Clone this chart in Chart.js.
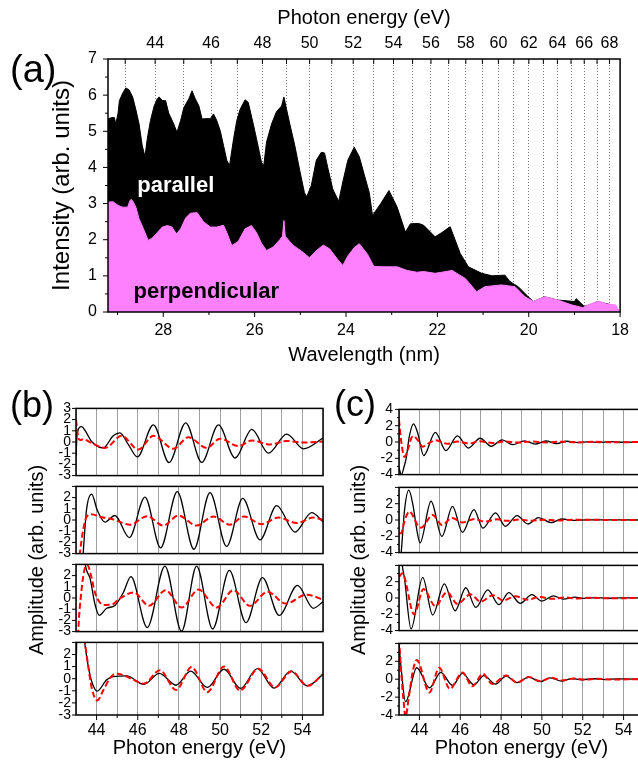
<!DOCTYPE html>
<html>
<head>
<meta charset="utf-8">
<script src="https://cdn.jsdelivr.net/npm/chart.js@4.4.1/dist/chart.umd.min.js"></script>
<style>
  html, body { margin: 0; padding: 0; background: #fff; overflow: hidden; }
  #wrap { position: relative; width: 638px; height: 765px; overflow: hidden;
          font-family: "Liberation Sans", Arial, Helvetica, sans-serif; color: #000; }
  canvas { position: absolute; }
  .panel { position: absolute; font-size: 36px; line-height: 36px; }
  .ytitle { position: absolute; font-size: 20px; white-space: nowrap;
            transform: translate(-50%, -50%) rotate(-90deg); }
</style>
</head>
<body>
<div id="wrap">
  <canvas id="chartA" width="638" height="372" style="left:0;top:0"></canvas>

  <canvas id="b1" width="330" height="94" style="left:0;top:395px"></canvas>
  <canvas id="b2" width="330" height="94" style="left:0;top:473px"></canvas>
  <canvas id="b3" width="330" height="94" style="left:0;top:551px"></canvas>
  <canvas id="b4" width="330" height="136" style="left:0;top:629px"></canvas>

  <canvas id="c1" width="330" height="94" style="left:320px;top:395px"></canvas>
  <canvas id="c2" width="330" height="94" style="left:320px;top:473px"></canvas>
  <canvas id="c3" width="330" height="94" style="left:320px;top:551px"></canvas>
  <canvas id="c4" width="330" height="136" style="left:320px;top:629px"></canvas>

  <div class="panel" style="left:10px;top:50px;font-size:38px;line-height:38px">(a)</div>
  <div class="panel" style="left:10px;top:387px">(b)</div>
  <div class="panel" style="left:334px;top:386px">(c)</div>
  <div class="ytitle" style="left:36px;top:560px">Amplitude (arb. units)</div>
  <div class="ytitle" style="left:358px;top:560px">Amplitude (arb. units)</div>
</div>

<script>
// ── Panel (a): spectra vs wavelength ─────────────────────────
const HC = 1239.84; // eV*nm, to place the photon-energy axis

const waveParallel = [
  29.21, 29.17, 29.12, 29.07, 29.04, 28.99, 28.96, 28.89, 28.82, 28.75,
  28.67, 28.60, 28.53, 28.46, 28.40, 28.35, 28.28, 28.20, 28.13, 28.09,
  28.02, 27.95, 27.88, 27.77, 27.70, 27.62, 27.55, 27.44, 27.37, 27.30,
  27.22, 27.15, 27.08, 26.97, 26.90, 26.83, 26.75, 26.68, 26.61, 26.55,
  26.46, 26.39, 26.32, 26.21, 26.14, 26.03, 25.96, 25.85, 25.80, 25.74,
  25.63, 25.52, 25.41, 25.36, 25.30, 25.23, 25.12, 25.01, 24.91, 24.86,
  24.76, 24.65, 24.54, 24.47, 24.40, 24.29, 24.16, 24.07, 23.96, 23.82,
  23.71, 23.60, 23.49, 23.42, 23.24, 23.06, 22.88, 22.70, 22.59, 22.41,
  22.30, 22.05, 21.90, 21.72, 21.50, 21.32, 21.03, 20.80, 20.52, 20.41,
  20.23, 20.01, 19.90, 19.65, 19.36, 19.00, 18.96, 18.78, 18.49, 18.20,
  18.02
];
const intParallel = [
  5.35, 5.36, 5.38, 5.38, 5.20, 5.50, 5.85, 6.05, 6.20, 6.15,
  5.95, 5.60, 5.20, 4.60, 4.30, 4.80, 5.30, 5.70, 5.90, 5.95,
  5.85, 5.85, 5.50, 5.20, 4.97, 5.30, 5.65, 5.90, 6.12, 5.90,
  5.70, 5.34, 5.35, 5.35, 5.48, 5.30, 5.00, 4.60, 4.20, 4.05,
  4.80, 5.30, 5.60, 5.87, 5.80, 5.20, 4.80, 4.14, 4.05, 4.70,
  5.20, 5.55, 5.70, 5.95, 5.60, 5.20, 4.60, 3.90, 3.30, 3.19,
  3.50, 4.20, 4.42, 4.40, 4.00, 3.40, 3.06, 3.60, 4.20, 4.56,
  4.30, 3.80, 3.30, 2.67, 3.00, 3.36, 2.90, 2.21, 2.44, 2.45,
  2.40, 2.08, 2.20, 2.36, 1.62, 1.25, 1.07, 1.00, 1.02, 0.84,
  0.70, 0.42, 0.29, 0.42, 0.33, 0.29, 0.37, 0.15, 0.29, 0.20,
  0.04
];
const wavePerp = [
  29.21, 29.10, 28.99, 28.89, 28.78, 28.73, 28.70, 28.66, 28.60, 28.53,
  28.42, 28.33, 28.24, 28.13, 28.02, 27.91, 27.81, 27.71, 27.62, 27.51,
  27.41, 27.26, 27.12, 26.97, 26.83, 26.68, 26.61, 26.50, 26.36, 26.21,
  26.07, 25.96, 25.85, 25.74, 25.59, 25.45, 25.39, 25.36, 25.33, 25.30,
  25.16, 24.94, 24.80, 24.65, 24.50, 24.36, 24.18, 24.07, 23.96, 23.82,
  23.71, 23.53, 23.39, 23.17, 22.88, 22.66, 22.45, 22.30, 22.05, 21.90,
  21.68, 21.39, 21.14, 20.96, 20.60, 20.30, 20.08, 19.90, 19.65, 19.36,
  19.07, 18.82, 18.60, 18.45, 18.30, 18.10, 18.02
];
const intPerp = [
  3.04, 3.05, 2.95, 2.90, 2.90, 3.08, 3.12, 3.05, 2.90, 2.58,
  2.26, 1.98, 2.05, 2.20, 2.35, 2.39, 2.35, 2.16, 2.30, 2.60,
  2.73, 2.75, 2.50, 2.35, 2.35, 2.40, 2.20, 1.84, 1.95, 2.30,
  2.39, 2.20, 1.90, 1.70, 1.80, 2.00, 2.10, 2.53, 2.10, 2.05,
  1.85, 1.65, 1.50, 1.70, 1.85, 1.75, 1.45, 1.29, 1.55, 1.78,
  1.89, 1.60, 1.26, 1.25, 1.25, 1.15, 1.10, 1.12, 1.07, 1.10,
  1.15, 0.93, 0.56, 0.70, 0.75, 0.70, 0.42, 0.29, 0.42, 0.33,
  0.20, 0.12, 0.25, 0.30, 0.22, 0.20, 0.03
];

const waveMajor = [28, 26, 24, 22, 20, 18];
const waveMinor = [29, 27, 25, 23, 21, 19];
const energyTicks = [43, 44, 45, 46, 47, 48, 49, 50, 51, 52, 53, 54, 55,
                     56, 57, 58, 59, 60, 61, 62, 63, 64, 65, 66, 67, 68];
const intensityMajor = [0, 1, 2, 3, 4, 5, 6, 7];
const intensityMinor = [0.5, 1.5, 2.5, 3.5, 4.5, 5.5, 6.5];

// ── Panel (b): amplitudes, four traces ───────────────────────
const b1BlackE = [43.0, 43.06, 43.27, 43.51, 43.76, 44.32, 44.81, 45.13, 45.54, 45.98, 46.76, 47.52, 48.33, 49.11, 49.92, 50.73, 51.54, 52.35, 53.24, 54.05, 55.0];
const b1BlackA = [-1.25, 0.8, 1.38, 0.81, 0.04, -0.53, 0.55, 0.81, -0.22, -1.33, 1.53, -1.84, 1.71, -1.82, 1.53, -1.43, 1.12, -0.99, 0.71, -0.61, 0.35];
const b1RedE = [43.0, 43.11, 43.19, 43.35, 43.76, 44.41, 45.22, 46.03, 46.76, 47.73, 48.46, 49.35, 50.0, 50.89, 51.54, 52.43, 53.24, 54.05, 55.0];
const b1RedA = [1.97, 0.42, 0.17, 0.24, -0.10, -0.53, 0.55, -0.68, 0.55, -0.60, 0.42, -0.53, 0.30, -0.37, 0.14, -0.22, 0.09, -0.04, 0.04];

const b2BlackE = [43.0, 43.30, 43.35, 43.51, 43.76, 44.03, 44.41, 44.89, 45.59, 46.35, 47.11, 47.92, 48.73, 49.51, 50.32, 51.10, 51.94, 52.75, 53.64, 54.45, 55.0];
const b2BlackA = [-9, -4, -2.9, 0.9, 2.31, 0.9, -0.19, 0.40, -1.57, 2.05, -2.49, 2.54, -2.61, 2.44, -2.36, 1.93, -1.77, 1.29, -1.08, 0.65, -0.15];
const b2RedE = [43.0, 43.12, 43.19, 43.35, 43.51, 43.76, 44.16, 44.65, 45.13, 45.62, 46.46, 47.24, 47.97, 48.86, 49.67, 50.48, 51.16, 52.02, 52.83, 53.72, 54.53, 55.0];
const b2RedA = [-8, -4, -2.9, -0.88, 0.27, 0.52, 0.27, 0.14, -0.17, -0.42, 0.34, -0.50, 0.40, -0.50, 0.32, -0.42, 0.32, -0.37, 0.22, -0.27, 0.22, 0.0];

const b3BlackE = [43.0, 43.30, 43.51, 43.68, 43.92, 44.13, 44.49, 44.89, 45.30, 45.67, 46.46, 47.32, 48.13, 48.86, 49.64, 50.45, 51.26, 52.06, 52.87, 53.76, 54.53, 55.0];
const b3BlackA = [8, 4.5, 2.5, 1.77, -0.54, -1.56, -0.92, -0.67, 0.49, 1.90, -2.64, 2.85, -2.97, 2.85, -2.77, 2.46, -2.20, 1.82, -1.56, 1.13, -0.92, -0.33];
const b3RedE = [43.0, 43.11, 43.27, 43.43, 43.55, 43.71, 43.92, 44.16, 44.41, 44.73, 45.13, 45.80, 46.55, 47.35, 48.13, 48.95, 49.84, 50.65, 51.45, 52.30, 53.20, 54.20, 55.0];
const b3RedA = [-9, -3, 0.74, 2.67, 2.95, 2.15, 0.49, -0.41, -0.62, -0.60, -0.05, 0.50, -0.70, 0.70, -0.85, 0.75, -0.85, 0.70, -0.70, 0.55, -0.50, 0.30, -0.15];

const b4BlackE = [43.0, 43.04, 43.20, 43.40, 43.59, 43.76, 44.03, 44.49, 44.81, 45.46, 46.30, 47.05, 47.86, 48.57, 49.38, 50.19, 51.00, 51.81, 52.62, 53.43, 54.24, 55.0];
const b4BlackA = [-0.2, 3.5, 5.5, 3.2, 1.09, -0.21, -1.03, -0.08, 0.18, 0.23, -0.47, 0.44, -0.54, 0.62, -0.72, 0.78, -0.80, 0.83, -0.78, 0.62, -0.59, 0.36];
const b4RedE = [43.0, 43.30, 43.43, 43.59, 43.76, 44.03, 44.32, 44.65, 44.97, 45.38, 45.86, 46.30, 47.08, 47.86, 48.62, 49.38, 50.19, 50.97, 51.86, 52.67, 53.48, 54.24, 55.0];
const b4RedA = [7, 4.5, 3.0, 1.09, -0.72, -1.81, -0.98, 0.05, 0.44, 0.23, -0.15, -0.41, 0.70, -0.93, 0.96, -1.11, 1.01, -0.98, 0.83, -0.72, 0.62, -0.59, 0.36];

// ── Panel (c): amplitudes, four traces ───────────────────────
const c1BlackE = [43.0, 43.12, 43.25, 43.35, 43.51, 43.71, 43.92, 44.21, 44.78, 45.30, 45.86, 46.40, 46.97, 47.52, 48.05, 48.57, 49.15, 49.67, 50.19, 50.73, 51.21, 51.80, 52.30, 52.80, 53.30, 53.80, 55.0];
const c1BlackA = [-3.2, -4.0, -3.0, -2.0, 0.74, 2.22, 1.08, -1.67, 1.19, -1.05, 0.74, -0.74, 0.46, -0.53, 0.26, -0.33, 0.15, -0.26, 0.12, -0.19, 0.09, -0.08, 0.05, -0.06, 0.04, -0.03, 0.0];
const c1RedE = [43.0, 43.11, 43.27, 43.43, 43.59, 43.71, 43.92, 44.16, 44.49, 44.81, 45.38, 45.86, 46.43, 46.92, 47.57, 48.20, 48.80, 49.50, 50.20, 51.00, 51.80, 52.60, 53.40, 55.0];
const c1RedA = [2.7, 0.05, -1.84, -0.98, 0.40, 0.74, 0.22, -0.57, -0.10, 0.22, -0.22, 0.05, -0.19, 0.10, -0.12, 0.06, -0.07, 0.05, -0.05, 0.04, -0.04, 0.04, -0.03, 0.0];

const c2BlackE = [43.0, 43.11, 43.27, 43.48, 43.68, 43.87, 44.03, 44.57, 45.10, 45.62, 46.11, 46.67, 47.11, 47.73, 48.21, 48.78, 49.32, 49.83, 50.45, 50.97, 51.54, 52.20, 55.0];
const c2BlackA = [-6, -3.9, 1.2, 3.66, 1.89, -1.17, -2.81, 2.30, -2.02, 1.68, -1.51, 1.28, -1.00, 0.87, -0.77, 0.53, -0.49, 0.29, -0.32, 0.12, -0.05, 0.02, 0.0];
const c2RedE = [43.0, 43.11, 43.27, 43.43, 43.51, 43.92, 44.08, 44.65, 45.10, 45.60, 46.11, 46.70, 47.20, 47.80, 48.30, 48.90, 49.50, 50.10, 50.70, 51.50, 55.0];
const c2RedA = [-1.68, -1.60, -0.15, 0.87, 1.04, -0.66, -0.94, 0.60, -0.60, 0.25, -0.30, 0.12, -0.20, 0.08, -0.10, 0.05, -0.08, 0.04, -0.05, 0.02, 0.0];

const c3BlackE = [43.0, 43.16, 43.27, 43.59, 44.16, 44.65, 45.22, 45.75, 46.27, 46.76, 47.35, 47.89, 48.38, 48.94, 49.51, 49.99, 50.56, 51.05, 51.62, 52.10, 52.60, 53.20, 53.80, 55.0];
const c3BlackA = [8, 4.0, 2.36, -3.80, 2.53, -2.09, 1.74, -1.57, 1.26, -1.16, 0.99, -0.82, 0.65, -0.65, 0.41, -0.38, 0.27, -0.14, 0.10, -0.05, 0.04, -0.03, 0.02, 0.0];
const c3RedE = [43.0, 43.16, 43.74, 44.20, 44.78, 45.35, 45.86, 46.50, 47.00, 47.60, 48.10, 48.70, 49.30, 49.90, 50.50, 51.10, 51.70, 52.40, 53.10, 55.0];
const c3RedA = [2.6, 3.04, -2.0, 1.10, -0.99, 0.72, -0.72, 0.45, -0.45, 0.35, -0.30, 0.20, -0.20, 0.12, -0.10, 0.06, -0.05, 0.04, -0.03, 0.0];

const c4BlackE = [43.0, 43.11, 43.32, 43.87, 44.49, 45.05, 45.62, 46.11, 46.67, 47.16, 47.73, 48.25, 48.78, 49.35, 49.92, 50.40, 50.97, 51.46, 51.94, 52.59, 53.10, 53.72, 55.0];
const c4BlackA = [3.9, 1.1, -2.52, 1.28, -0.97, 0.76, -0.69, 0.66, -0.62, 0.41, -0.55, 0.34, -0.38, 0.24, -0.28, 0.14, -0.21, 0.07, -0.06, 0.05, -0.04, 0.04, 0.0];
const c4RedE = [43.0, 43.11, 43.22, 43.32, 43.48, 43.68, 43.87, 44.49, 44.97, 45.49, 46.11, 46.59, 47.11, 47.57, 48.25, 48.78, 49.35, 49.92, 50.48, 50.97, 51.54, 52.10, 52.70, 53.30, 55.0];
const c4RedA = [4.5, 0.76, -2.34, -4.2, -2.0, 0.93, 2.14, -1.48, 1.28, -1.07, 0.76, -0.79, 0.59, -0.55, 0.41, -0.38, 0.24, -0.21, 0.17, -0.14, 0.08, -0.05, 0.04, -0.03, 0.0];

const energyMajor = [44, 46, 48, 50, 52, 54];
const energyMinor = [45, 47, 49, 51, 53];
const ampTicksB = [-3, -2, -1, 0, 1, 2, 3];
const ampMajorC = [-4, -2, 0, 2, 4];
const ampMinorC = [-3, -1, 1, 3];

// ── helpers ──────────────────────────────────────────────────
Chart.defaults.font.family = '"Liberation Sans", Arial, Helvetica, sans-serif';
Chart.defaults.color = '#000';

const xy = (xs, ys) => xs.map((x, i) => ({ x, y: ys[i] }));

// box around the plot, tick marks, and in-plot text
function frame(marks, notes) {
  return {
    id: 'frame',
    afterDatasetsDraw(chart) {
      const { ctx, chartArea: a } = chart;
      ctx.save();
      ctx.strokeStyle = '#000';
      ctx.lineWidth = 1;
      ctx.beginPath();
      marks.forEach((m) => {
        const s = chart.scales[m.scale];
        m.values.forEach((v) => {
          const p = s.getPixelForValue(v);
          if (m.edge === 'left') { ctx.moveTo(a.left, p); ctx.lineTo(a.left - m.len, p); }
          else if (m.edge === 'bottom') { ctx.moveTo(p, a.bottom); ctx.lineTo(p, a.bottom + m.len); }
          else { ctx.moveTo(p, a.top); ctx.lineTo(p, a.top + m.len); }
        });
      });
      ctx.stroke();
      ctx.lineWidth = 1.5;
      ctx.strokeRect(a.left, a.top, a.right - a.left, a.bottom - a.top);
      (notes || []).forEach((n) => {
        ctx.font = 'bold 22px "Liberation Sans", Arial, sans-serif';
        ctx.fillStyle = n.color;
        ctx.textBaseline = 'middle';
        ctx.fillText(n.text, chart.scales.x.getPixelForValue(n.x), chart.scales.y.getPixelForValue(n.y));
      });
      ctx.restore();
    },
  };
}

// ── Panel (a) ────────────────────────────────────────────────
new Chart(document.getElementById('chartA'), {
  type: 'line',
  data: {
    datasets: [
      { label: 'perpendicular', data: xy(wavePerp, intPerp), borderColor: '#ff80ff', backgroundColor: '#ff80ff',
        borderWidth: 1, fill: 'origin', pointRadius: 0, tension: 0, order: 0 },
      { label: 'parallel', data: xy(waveParallel, intParallel), borderColor: '#000', backgroundColor: '#000',
        borderWidth: 1, fill: 'origin', pointRadius: 0, tension: 0, order: 1 },
    ],
  },
  options: {
    responsive: false, animation: false, events: [],
    layout: { padding: { left: 46, right: 14, top: 4, bottom: 5 } },
    plugins: { legend: { display: false }, tooltip: { enabled: false } },
    scales: {
      x: {
        type: 'linear', reverse: true, min: 18, max: 29.21,
        grid: { display: false, drawTicks: false }, border: { display: false },
        ticks: { stepSize: 2, includeBounds: false, autoSkip: false, maxRotation: 0, padding: 9, font: { size: 16 } },
        title: { display: true, text: 'Wavelength (nm)', font: { size: 20 }, padding: { top: 0, bottom: 0 } },
        afterFit: (s) => { s.height = 55; },
      },
      x2: {
        type: 'linear', position: 'top', reverse: true, min: 18, max: 29.21,
        grid: { display: true, drawTicks: false, color: '#777', lineWidth: 1 },
        border: { display: false, dash: [1, 2] },
        afterBuildTicks: (s) => { s.ticks = energyTicks.map((e) => ({ value: HC / e })); },
        ticks: {
          autoSkip: false, maxRotation: 0, minRotation: 0, padding: 6, font: { size: 16 },
          callback: (v, i) => (energyTicks[i] % 2 === 0 ? String(energyTicks[i]) : ''),
        },
        title: { display: true, text: 'Photon energy (eV)', font: { size: 20 }, padding: { top: 2, bottom: 0 } },
        afterFit: (s) => { s.height = 55; },
      },
      y: {
        min: 0, max: 7,
        grid: { display: false, drawTicks: false }, border: { display: false },
        ticks: { stepSize: 1, autoSkip: false, padding: 11, font: { size: 16 } },
        title: { display: true, text: 'Intensity (arb. units)', font: { size: 24 }, padding: { top: 2, bottom: 0 } },
        afterFit: (s) => { s.width = 62; },
      },
    },
  },
  plugins: [frame(
    [
      { scale: 'x', edge: 'bottom', values: waveMajor, len: 5 },
      { scale: 'x', edge: 'bottom', values: waveMinor, len: 3 },
      { scale: 'x2', edge: 'top', values: energyTicks.map((e) => HC / e), len: 5 },
      { scale: 'y', edge: 'left', values: intensityMajor, len: 5 },
      { scale: 'y', edge: 'left', values: intensityMinor, len: 3 },
    ],
    [
      { text: 'parallel', x: 28.57, y: 3.49, color: '#fff' },
      { text: 'perpendicular', x: 28.65, y: 0.55, color: '#000' },
    ]
  )],
});

// ── Panels (b) and (c): one chart per trace ──────────────────
function osc(id, cfg) {
  const bottom = cfg.bottom;
  const marks = [{ scale: 'y', edge: 'left', values: cfg.yMajor, len: 4 }];
  if (cfg.yMinor) marks.push({ scale: 'y', edge: 'left', values: cfg.yMinor, len: 2 });
  if (bottom) {
    marks.push({ scale: 'x', edge: 'bottom', values: energyMajor, len: 5 });
    marks.push({ scale: 'x', edge: 'bottom', values: energyMinor, len: 3 });
  }
  new Chart(document.getElementById(id), {
    type: 'line',
    data: {
      datasets: [
        { data: xy(cfg.redE, cfg.redA), borderColor: '#ff0000', borderWidth: 2, borderDash: [6, 3],
          pointRadius: 0, cubicInterpolationMode: 'monotone', order: 0 },
        { data: xy(cfg.blackE, cfg.blackA), borderColor: '#000', borderWidth: 1.3,
          pointRadius: 0, cubicInterpolationMode: 'monotone', order: 1 },
      ],
    },
    options: {
      responsive: false, animation: false, events: [],
      layout: { padding: { left: 0, right: cfg.padRight, top: 8, bottom: bottom ? 2 : 8 } },
      plugins: { legend: { display: false }, tooltip: { enabled: false } },
      scales: {
        x: {
          type: 'linear', min: 43, max: 55,
          grid: { color: '#a0a0a0', lineWidth: 1, drawTicks: false }, border: { display: false },
          ticks: { display: bottom, stepSize: 1, autoSkip: false, maxRotation: 0, padding: 6, font: { size: 16 },
                   callback: (v) => (v % 2 === 0 ? String(v) : '') },
          title: { display: bottom, text: 'Photon energy (eV)', font: { size: 20 }, padding: { top: 0, bottom: 3 } },
          afterFit: (s) => { s.height = bottom ? 48 : 0; },
        },
        y: {
          min: -cfg.lim, max: cfg.lim,
          grid: { display: false, drawTicks: false }, border: { display: false },
          ticks: { stepSize: cfg.step, autoSkip: false, padding: cfg.tickPad, font: { size: 14 },
                   callback: (v) => (cfg.hideTop && v === cfg.lim ? '' : String(v)) },
          afterFit: (s) => { s.width = cfg.yWidth; },
        },
      },
    },
    plugins: [frame(marks)],
  });
}

const bBase = { lim: 3, step: 1, yMajor: ampTicksB, yWidth: 76, padRight: 7, tickPad: 5 };
osc('b1', { ...bBase, blackE: b1BlackE, blackA: b1BlackA, redE: b1RedE, redA: b1RedA });
osc('b2', { ...bBase, hideTop: true, blackE: b2BlackE, blackA: b2BlackA, redE: b2RedE, redA: b2RedA });
osc('b3', { ...bBase, hideTop: true, blackE: b3BlackE, blackA: b3BlackA, redE: b3RedE, redA: b3RedA });
osc('b4', { ...bBase, hideTop: true, bottom: true, blackE: b4BlackE, blackA: b4BlackA, redE: b4RedE, redA: b4RedA });

const cBase = { lim: 4, step: 2, yMajor: ampMajorC, yMinor: ampMinorC, yWidth: 79, padRight: 4, tickPad: 6 };
osc('c1', { ...cBase, blackE: c1BlackE, blackA: c1BlackA, redE: c1RedE, redA: c1RedA });
osc('c2', { ...cBase, hideTop: true, blackE: c2BlackE, blackA: c2BlackA, redE: c2RedE, redA: c2RedA });
osc('c3', { ...cBase, hideTop: true, blackE: c3BlackE, blackA: c3BlackA, redE: c3RedE, redA: c3RedA });
osc('c4', { ...cBase, hideTop: true, bottom: true, blackE: c4BlackE, blackA: c4BlackA, redE: c4RedE, redA: c4RedA });
</script>
</body>
</html>
